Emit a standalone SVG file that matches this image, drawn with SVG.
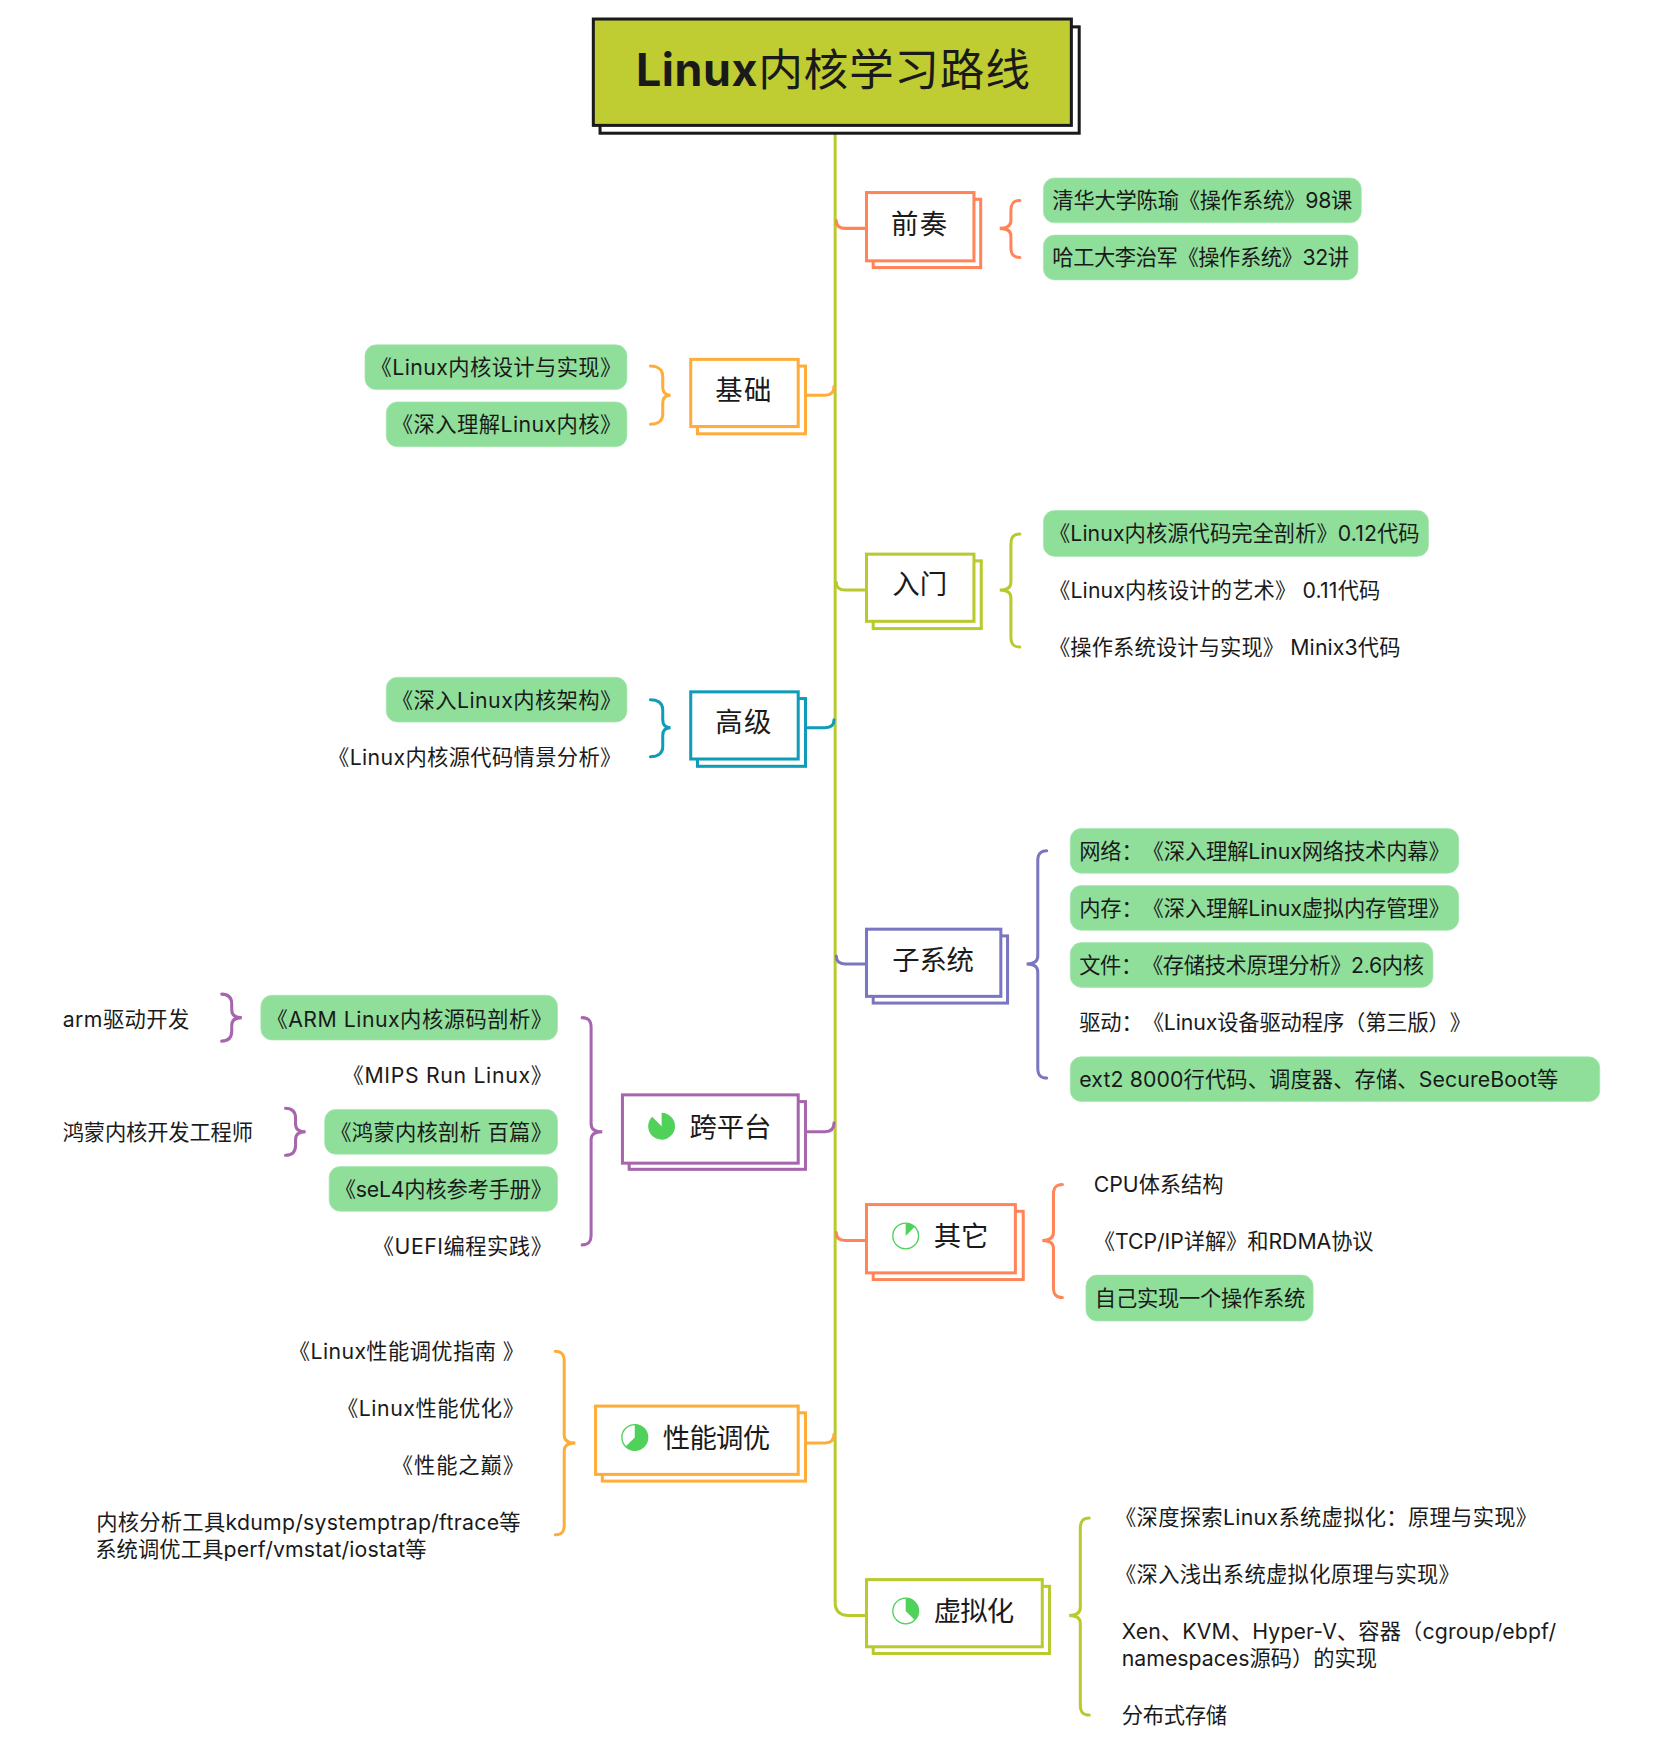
<svg xmlns="http://www.w3.org/2000/svg" width="1668" height="1756" viewBox="0 0 1668 1756">
<style>
text{font-family:"Inter","Noto Sans CJK SC",sans-serif;fill:#1a1a1a;text-spacing-trim:space-all;font-feature-settings:"chws" 0}
.t{font-size:19px}
.b{font-size:24.5px}
.l{fill:#8fdf9b;stroke:#a5e5ae;stroke-width:.6}
.c{fill:none;stroke-width:2.7;stroke-linecap:round}
.f{fill:#fff;stroke-width:2.7}
.o{stroke:#ff8558}.y{stroke:#ffad3a}.g{stroke:#b8ca2e}.u{stroke:#0f9cb8}.v{stroke:#7a76c1}.p{stroke:#a765ad}
.pie{fill:#4fd15a}
.ring{fill:#fff;stroke:#4fd15a;stroke-width:1.2}
</style>
<rect width="1668" height="1756" fill="#fff"/>
<g transform="scale(1.1195)">
<g id="connectors">
<path class="c g" d="M746,119V1431Q746,1443 758,1443H774"/>
<path class="c o" d="M747,197Q747,204 755,204H774"/>
<path class="c y" d="M719,353H737Q745,353 745,345"/>
<path class="c g" d="M747,520Q747,527 755,527H774"/>
<path class="c u" d="M719,650H737Q745,650 745,643"/>
<path class="c v" d="M747,854Q747,861 755,861H774"/>
<path class="c p" d="M719,1011H737Q745,1011 745,1003"/>
<path class="c o" d="M747,1101Q747,1108 755,1108H774"/>
<path class="c y" d="M719,1289H737Q745,1289 745,1281"/>
<path class="c o" d="M911,179C906,179 903,181 903,188V197Q903,204 893,204Q903,204 903,211V221C903,228 906,230 911,230"/>
<path class="c y" d="M581,327C586,327 592,329 592,336V346Q592,353 599,353Q592,353 592,360V370C592,377 586,379 581,379"/>
<path class="c g" d="M911,477C906,477 903,479 903,486V520Q903,527 893,527Q903,527 903,534V569C903,576 906,578 911,578"/>
<path class="c u" d="M581,625C586,625 592,627 592,634V643Q592,650 599,650Q592,650 592,657V667C592,674 586,676 581,676"/>
<path class="c v" d="M935,760C930,760 927,762 927,769V854Q927,861 917,861Q927,861 927,868V954C927,961 930,963 935,963"/>
<path class="c p" d="M520,909C525,909 528,911 528,918V1004Q528,1011 538,1011Q528,1011 528,1018V1103C528,1110 525,1112 520,1112"/>
<path class="c p" d="M198,888C203,888 207,890 207,897V902Q207,909 216,909Q207,909 207,916V921C207,928 203,930 198,930"/>
<path class="c p" d="M255,990C260,990 264,992 264,999V1004Q264,1011 273,1011Q264,1011 264,1018V1023C264,1030 260,1032 255,1032"/>
<path class="c o" d="M949,1058C944,1058 941,1060 941,1067V1101Q941,1108 931,1108Q941,1108 941,1115V1150C941,1157 944,1159 949,1159"/>
<path class="c y" d="M496,1207C501,1207 504,1209 504,1216V1282Q504,1289 514,1289Q504,1289 504,1296V1362C504,1369 501,1371 496,1371"/>
<path class="c g" d="M973,1356C968,1356 965,1358 965,1365V1436Q965,1443 955,1443Q965,1443 965,1450V1523C965,1530 968,1532 973,1532"/>
</g>
<g id="root">
<rect x="536" y="24" width="428" height="95" fill="#fff" stroke="#1a1a1a" stroke-width="2.7"/>
<rect x="530" y="17" width="427" height="95" fill="#bfcc32" stroke="#1a1a1a" stroke-width="2.7"/>
<text x="568" y="77" font-size="40" textLength="352"><tspan font-weight="700">Linux</tspan>内核学习路线</text>
</g>
<g id="qianzou">
<rect class="f o" x="780" y="178" width="96" height="61"/><rect class="f o" x="774" y="172" width="96" height="61"/>
<text class="b" x="796" y="209" textLength="50">前奏</text>
<rect class="l" x="932" y="159" width="284" height="40" rx="10"/><text class="t" x="940" y="186" textLength="268">清华大学陈瑜《操作系统》98课</text>
<rect class="l" x="932" y="210" width="281" height="40" rx="10"/><text class="t" x="940" y="237" textLength="265">哈工大李治军《操作系统》32讲</text>
</g>
<g id="jichu">
<rect class="f y" x="623" y="327" width="96.500" height="60.500"/><rect class="f y" x="617" y="321" width="96" height="60"/>
<text class="b" x="639" y="357" textLength="50">基础</text>
<rect class="l" x="326" y="308" width="234" height="40" rx="10"/><text class="t" x="331" y="335" textLength="224">《Linux内核设计与实现》</text>
<rect class="l" x="345" y="359" width="215" height="40" rx="10"/><text class="t" x="350" y="386" textLength="205">《深入理解Linux内核》</text>
</g>
<g id="rumen">
<rect class="f g" x="780" y="501" width="96.500" height="60.500"/><rect class="f g" x="774" y="495" width="96" height="60"/>
<text class="b" x="797" y="531" textLength="49">入门</text>
<rect class="l" x="932" y="456" width="344" height="41" rx="10"/><text class="t" x="937" y="483" textLength="331">《Linux内核源代码完全剖析》0.12代码</text>
<text class="t" x="937" y="534" textLength="296">《Linux内核设计的艺术》 0.11代码</text>
<text class="t" x="937" y="585" textLength="314">《操作系统设计与实现》 Minix3代码</text>
</g>
<g id="gaoji">
<rect class="f u" x="623" y="624" width="96.500" height="60.500"/><rect class="f u" x="617" y="618" width="96" height="60"/>
<text class="b" x="639" y="653.500" textLength="50">高级</text>
<rect class="l" x="345" y="605" width="215" height="40" rx="10"/><text class="t" x="350" y="632" textLength="205">《深入Linux内核架构》</text>
<text class="t" x="293" y="683" textLength="262">《Linux内核源代码情景分析》</text>
</g>
<g id="zixitong">
<rect class="f v" x="780" y="836" width="120" height="60"/><rect class="f v" x="774" y="830" width="120" height="60"/>
<text class="b" x="797" y="866.500" textLength="73">子系统</text>
<rect class="l" x="956" y="740" width="347" height="40" rx="10"/><text class="t" x="964" y="767" textLength="331">网络：《深入理解Linux网络技术内幕》</text>
<rect class="l" x="956" y="791" width="347" height="40" rx="10"/><text class="t" x="964" y="818" textLength="331">内存：《深入理解Linux虚拟内存管理》</text>
<rect class="l" x="956" y="842" width="324" height="40" rx="10"/><text class="t" x="964" y="869" textLength="308">文件：《存储技术原理分析》2.6内核</text>
<text class="t" x="964" y="920" textLength="350">驱动：《Linux设备驱动程序（第三版）》</text>
<rect class="l" x="956" y="944" width="473" height="40" rx="10"/><text class="t" x="964" y="971" textLength="428">ext2 8000行代码、调度器、存储、SecureBoot等</text>
</g>
<g id="kuapingtai">
<rect class="f p" x="562" y="984" width="157.500" height="60.500"/><rect class="f p" x="556" y="978" width="157" height="61"/>
<path class="pie" d="M591,994A12,12 0 1 1 582.500,997.500L591,1006Z"/>
<text class="b" x="616" y="1015.500" textLength="73">跨平台</text>
<rect class="l" x="233" y="889" width="265" height="40" rx="10"/><text class="t" x="238" y="917" textLength="255">《ARM Linux内核源码剖析》</text>
<text class="t" x="306" y="967" textLength="187">《MIPS Run Linux》</text>
<rect class="l" x="290" y="991" width="208" height="40" rx="10"/><text class="t" x="295" y="1018" textLength="198">《鸿蒙内核剖析 百篇》</text>
<rect class="l" x="294" y="1042" width="204" height="40" rx="10"/><text class="t" x="299" y="1069" textLength="194">《seL4内核参考手册》</text>
<text class="t" x="333" y="1120" textLength="160">《UEFI编程实践》</text>
<text class="t" x="56" y="917" textLength="113">arm驱动开发</text>
<text class="t" x="56" y="1018" textLength="170">鸿蒙内核开发工程师</text>
</g>
<g id="qita">
<rect class="f o" x="780" y="1082" width="134" height="61"/><rect class="f o" x="774" y="1076" width="133" height="61"/>
<circle class="ring" cx="809" cy="1104" r="11.500"/><path class="pie" d="M809,1104V1092.500A11.500,11.500 0 0 1 817.100,1095.900Z"/>
<text class="b" x="834" y="1113" textLength="49">其它</text>
<text class="t" x="977" y="1065" textLength="116">CPU体系结构</text>
<text class="t" x="977" y="1116" textLength="250">《TCP/IP详解》和RDMA协议</text>
<rect class="l" x="970" y="1139" width="203" height="41" rx="10"/><text class="t" x="978" y="1167" textLength="188">自己实现一个操作系统</text>
</g>
<g id="xingneng">
<rect class="f y" x="538" y="1262" width="181.500" height="61"/><rect class="f y" x="532" y="1256" width="181" height="61"/>
<circle class="ring" cx="567" cy="1284" r="11.500"/><path class="pie" d="M567,1284V1272.500A11.500,11.500 0 1 1 558.900,1292.100Z"/>
<text class="b" x="592" y="1293.500" textLength="96">性能调优</text>
<text class="t" x="258" y="1214" textLength="210">《Linux性能调优指南 》</text>
<text class="t" x="301" y="1265" textLength="167">《Linux性能优化》</text>
<text class="t" x="350" y="1316" textLength="118">《性能之巅》</text>
<text class="t" x="86" y="1367" textLength="379">内核分析工具kdump/systemptrap/ftrace等</text>
<text class="t" x="85" y="1391" textLength="296">系统调优工具perf/vmstat/iostat等</text>
</g>
<g id="xuni">
<rect class="f g" x="780" y="1417" width="157.500" height="60"/><rect class="f g" x="774" y="1411" width="157" height="60"/>
<circle class="ring" cx="809" cy="1439" r="11.500"/><path class="pie" d="M809,1439V1427.500A11.500,11.500 0 0 1 817.100,1447.100Z"/>
<text class="b" x="834" y="1448" textLength="72">虚拟化</text>
<text class="t" x="996" y="1362" textLength="377">《深度探索Linux系统虚拟化：原理与实现》</text>
<text class="t" x="996" y="1413" textLength="308">《深入浅出系统虚拟化原理与实现》</text>
<text class="t" x="1002" y="1464" textLength="388">Xen、KVM、Hyper-V、容器（cgroup/ebpf/</text>
<text class="t" x="1002" y="1488" textLength="228">namespaces源码）的实现</text>
<text class="t" x="1002" y="1539" textLength="94">分布式存储</text>
</g>
</g>
</svg>
